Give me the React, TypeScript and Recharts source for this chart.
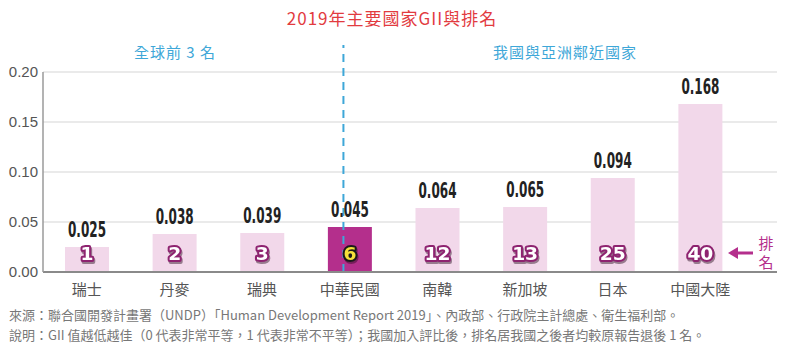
import React from 'react';
import {
  BarChart,
  Bar,
  XAxis,
  YAxis,
  CartesianGrid,
  Cell,
  LabelList,
  ReferenceLine,
} from 'recharts';

const countries = ['瑞士', '丹麥', '瑞典', '中華民國', '南韓', '新加坡', '日本', '中國大陸'];
const giiValues = [0.025, 0.038, 0.039, 0.045, 0.064, 0.065, 0.094, 0.168];
const ranks = [1, 2, 3, 6, 12, 13, 25, 40];
const yTicks = [0, 0.05, 0.1, 0.15, 0.2];
const highlight = '中華民國';

const chartData = countries.map((name, i) => ({
  name,
  gii: giiValues[i],
  rank: ranks[i],
}));

const CJK = '"Noto Sans CJK TC", "Noto Sans", sans-serif';
const PINK = '#f2d8ea';
const MAGENTA = '#b42f8c';

function ValueLabel(props: any) {
  const { x, y, width, value } = props;
  const txt = (value as number).toFixed(3);
  return (
    <text
      x={x + width / 2}
      y={y - 10}
      textAnchor="middle"
      fontFamily='"Liberation Sans Narrow", "DejaVu Sans Condensed", sans-serif'
      fontWeight="bold"
      fontSize={22}
      fill="#222"
      textLength={38}
      lengthAdjust="spacingAndGlyphs"
    >
      {txt}
    </text>
  );
}

function RankLabel(props: any) {
  const { x, y, width, height, value, index } = props;
  const isHome = countries[index] === highlight;
  return (
    <text
      x={x + width / 2}
      y={y + height - 12}
      textAnchor="middle"
      fontFamily='"DejaVu Sans", sans-serif'
      fontWeight="bold"
      fontSize={18}
      textLength={String(value).length > 1 ? 26 : 13}
      lengthAdjust="spacingAndGlyphs"
      fill={isHome ? '#f5e03a' : '#ffffff'}
      stroke={isHome ? '#1a1a1a' : '#8e2370'}
      strokeWidth={4}
      strokeLinejoin="round"
      paintOrder="stroke"
      style={{ filter: 'drop-shadow(1px 2px 0 rgba(40,10,30,0.45))' }}
    >
      {value}
    </text>
  );
}

export default function App() {
  return (
    <div style={{ position: 'absolute', left: 0, top: 0, width: 799, height: 361, background: '#fff', fontFamily: CJK }}>
      <div
        style={{
          position: 'absolute',
          left: 0,
          width: 784,
          top: 6,
          textAlign: 'center',
          color: '#e23b3f',
          fontSize: 17,
          letterSpacing: 1,
          lineHeight: '24px',
        }}
      >
        2019年主要國家GII與排名
      </div>
      <div style={{ position: 'absolute', left: 95, width: 160, top: 41, textAlign: 'center', color: '#3ea7d8', fontSize: 15, letterSpacing: 1, lineHeight: '22px' }}>
        全球前 3 名
      </div>
      <div style={{ position: 'absolute', left: 465, width: 200, top: 41, textAlign: 'center', color: '#3ea7d8', fontSize: 15, letterSpacing: 1, lineHeight: '22px' }}>
        我國與亞洲鄰近國家
      </div>

      <BarChart
        width={799}
        height={300}
        data={chartData}
        margin={{ top: 72, right: 22, bottom: 0, left: 0 }}
        style={{ position: 'absolute', left: 0, top: 0 }}
      >
        <CartesianGrid vertical={false} stroke="#e3e3e3" strokeWidth={1.5} />
        <XAxis
          dataKey="name"
          height={28}
          padding={{ left: 0, right: 33 }}
          axisLine={{ stroke: '#8a8a8a', strokeWidth: 2 }}
          tickLine={false}
          tick={{ fontSize: 15, fill: '#555', fontFamily: CJK }}
          tickMargin={6}
          interval={0}
        />
        <XAxis xAxisId="num" type="number" domain={[0, 8]} padding={{ left: 0, right: 33 }} hide />
        <YAxis
          width={43}
          domain={[0, 0.2]}
          ticks={yTicks}
          tickFormatter={(v) => (v as number).toFixed(2)}
          axisLine={{ stroke: '#9a9a9a', strokeWidth: 1.5 }}
          tickLine={false}
          tickSize={0}
          tickMargin={5}
          tick={{ fontSize: 15, fill: '#555', fontFamily: '"Liberation Sans", Arial, sans-serif' }}
        />
        <ReferenceLine
          xAxisId="num"
          segment={[
            { x: 3, y: 0 },
            { x: 3, y: 0.227 },
          ]}
          ifOverflow="visible"
          stroke="#3ea7d8"
          strokeWidth={2}
          strokeDasharray="8 6"
        />
        <Bar dataKey="gii" barSize={44} isAnimationActive={false}>
          {chartData.map((d) => (
            <Cell key={d.name} fill={d.name === highlight ? MAGENTA : PINK} />
          ))}
          <LabelList dataKey="gii" content={<ValueLabel />} />
          <LabelList dataKey="rank" content={<RankLabel />} />
        </Bar>
      </BarChart>

      <svg style={{ position: 'absolute', left: 726, top: 240 }} width={30} height={26}>
        <line x1={8} y1={13} x2={27} y2={13} stroke={MAGENTA} strokeWidth={3} />
        <polygon points="2,13 12,7 12,19" fill={MAGENTA} />
      </svg>
      <div style={{ position: 'absolute', left: 757, top: 233, color: MAGENTA, fontSize: 15, lineHeight: '19px', width: 18, textAlign: 'center' }}>
        <div>排</div>
        <div>名</div>
      </div>

      <div style={{ position: 'absolute', left: 9, top: 305, color: '#777', fontSize: 13, lineHeight: '20px', whiteSpace: 'nowrap' }}>
        來源：聯合國開發計畫署（UNDP）「Human Development Report 2019」、內政部、行政院主計總處、衛生福利部。
      </div>
      <div style={{ position: 'absolute', left: 9, top: 325, color: '#777', fontSize: 13, lineHeight: '20px', whiteSpace: 'nowrap' }}>
        說明：GII 值越低越佳（0 代表非常平等，1 代表非常不平等）；我國加入評比後，排名居我國之後者均較原報告退後 1 名。
      </div>
    </div>
  );
}
